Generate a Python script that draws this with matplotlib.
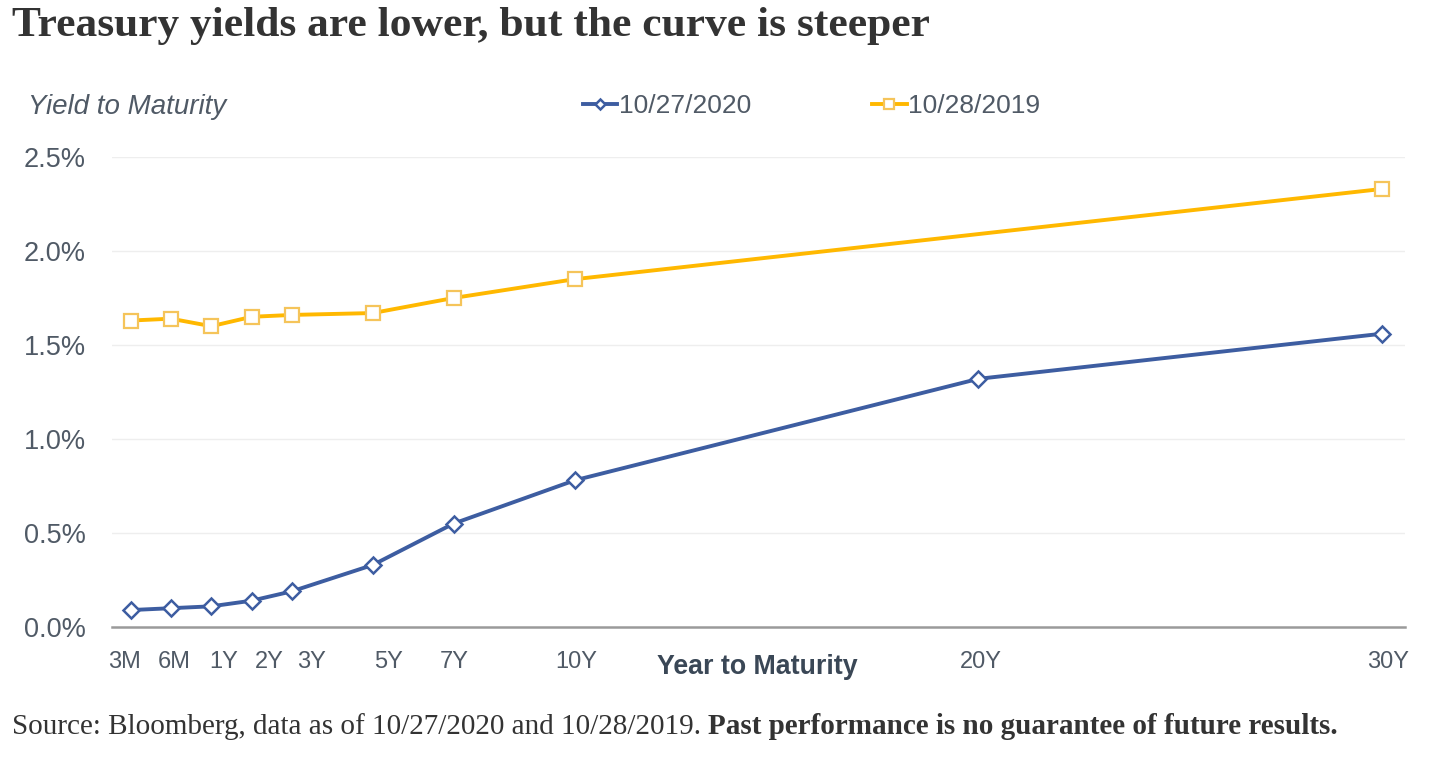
import numpy as np
import matplotlib
matplotlib.use("Agg")
import matplotlib.pyplot as plt

# data
maturities = ['3M', '6M', '1Y', '2Y', '3Y', '5Y', '7Y', '10Y', '20Y', '30Y']
point_pos = [-1, 0, 1, 2, 3, 5, 7, 10, 20, 30]
yield_2020 = [0.09, 0.10, 0.11, 0.14, 0.19, 0.33, 0.55, 0.78, 1.32, 1.56]
yield_2019 = [1.63, 1.64, 1.60, 1.65, 1.66, 1.67, 1.75, 1.85, np.nan, 2.33]
yticks = [0.0, 0.5, 1.0, 1.5, 2.0, 2.5]

# labels in the original sit a bit off the points
label_pos = [-1.16, 0.07, 1.31, 2.43, 3.49, 5.4, 7.01, 10.03, 20.06, 30.14]

blue = '#3d5da1'
orange = '#ffb800'
grey_txt = '#505a66'

plt.rcParams['font.family'] = ['Liberation Sans', 'DejaVu Sans']

fig = plt.figure(figsize=(14.46, 7.66), dpi=100)
ax = fig.add_axes([112 / 1446, 1 - 627 / 766, (1405 - 112) / 1446, (627 - 157) / 766])

x = np.array(point_pos, dtype=float)
y19 = np.array(yield_2019)
ok = ~np.isnan(y19)

ax.plot(x, yield_2020, color=blue, lw=2.8, marker='D', ms=8.5,
        mfc='white', mec=blue, mew=1.8, label='10/27/2020', zorder=3)
ax.plot(x[ok], y19[ok], color=orange, lw=2.8, marker='s', ms=10,
        mfc='white', mec='#f5c45a', mew=1.6, label='10/28/2019', zorder=3)

ax.set_xlim(-1.46, 30.57)
ax.set_ylim(0, 2.5)
ax.set_yticks(yticks)
ax.set_yticklabels([f'{v:.1f}%' for v in yticks])
ax.set_xticks(label_pos)
ax.set_xticklabels(maturities)

for v in yticks[1:]:
    ax.axhline(v, color='#eeeeee', lw=1, zorder=1)

for s in ['top', 'right', 'left']:
    ax.spines[s].set_visible(False)
ax.spines['bottom'].set_color('#9a9a9a')
ax.spines['bottom'].set_linewidth(1.8)
ax.tick_params(axis='y', length=0, pad=19, labelsize=19.5, labelcolor=grey_txt)
ax.tick_params(axis='x', length=0, pad=17, labelsize=17, labelcolor=grey_txt)

fig.text(757 / 1446, 1 - 667 / 766, 'Year to Maturity', ha='center', va='center',
         fontsize=19.3, fontweight='bold', color='#3a4756')

fig.text(28 / 1446, 1 - 107 / 766, 'Yield to Maturity', ha='left', va='center',
         fontsize=20, style='italic', color=grey_txt)

fig.legend(loc='center left', bbox_to_anchor=(583 / 1446, 1 - 106 / 766),
           ncol=2, frameon=False, fontsize=19, handlelength=1.3,
           handletextpad=0.05, columnspacing=4.6, markerscale=0.65,
           labelcolor=grey_txt, borderpad=0, borderaxespad=0)

fig.text(12 / 1446, 1 - 26 / 766, 'Treasury yields are lower, but the curve is steeper',
         ha='left', va='center', fontsize=31.3, fontweight='bold', color='#333333',
         family=['Liberation Serif', 'DejaVu Serif'])

# footer: regular part, then bold part placed right after it
t1 = fig.text(12 / 1446, 1 - 727 / 766,
              'Source: Bloomberg, data as of 10/27/2020 and 10/28/2019. ',
              ha='left', va='center', fontsize=21, color='#333333',
              family=['Liberation Serif', 'DejaVu Serif'])
fig.canvas.draw()
bb = t1.get_window_extent()
fig.text(bb.x1 / fig.bbox.width, 1 - 727 / 766,
         'Past performance is no guarantee of future results.',
         ha='left', va='center', fontsize=21, fontweight='bold', color='#333333',
         family=['Liberation Serif', 'DejaVu Serif'])

fig.savefig('out.png', dpi=100)
